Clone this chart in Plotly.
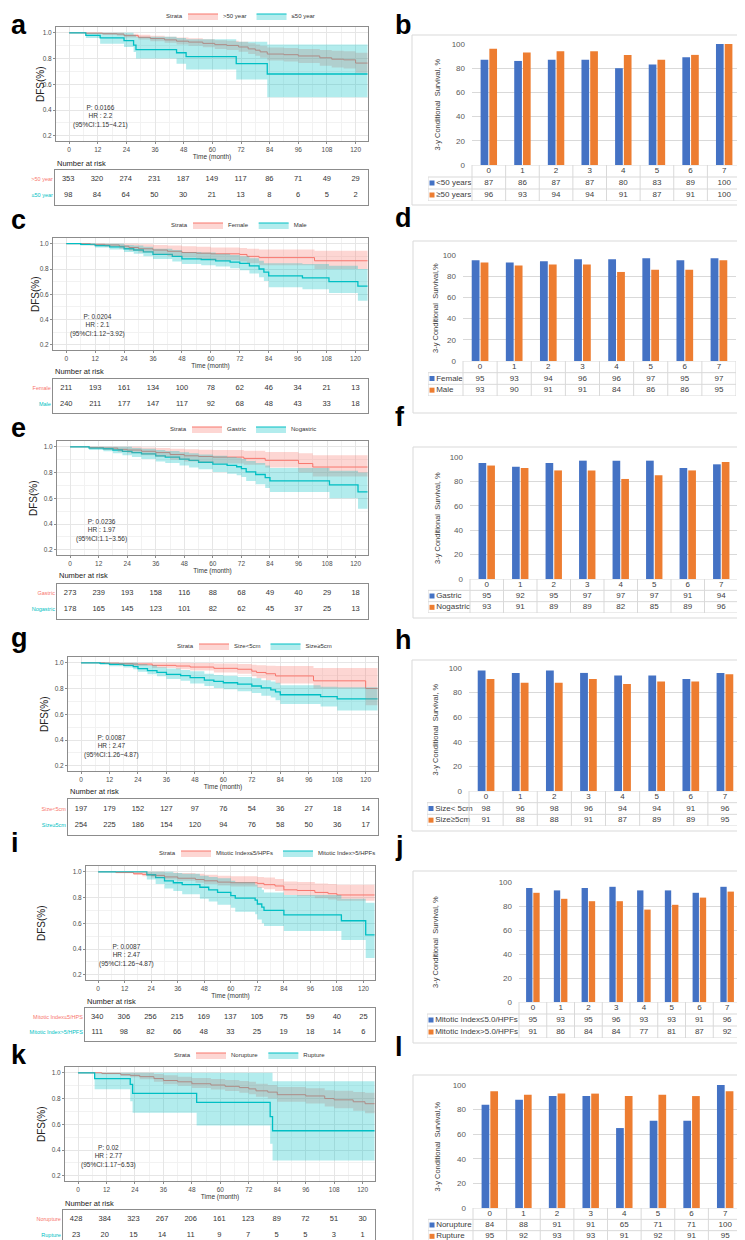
import plotly.graph_objects as go

# ====================== DATA ======================
RISK_TIMES = [0, 12, 24, 36, 48, 60, 72, 84, 96, 108, 120]
COND_YEARS = [0, 1, 2, 3, 4, 5, 6, 7]

KM_LEGEND_NAMES = [["&gt;50 year", "≤50 year"], ["Female", "Male"], ["Gastric", "Nogastric"],
                   ["Size&lt;5cm", "Size≥5cm"], ["Mitotic Index≤5/HPFs", "Mitotic Index&gt;5/HPFs"],
                   ["Norupture", "Rupture"]]
RISK_ROW_LABELS = [["&gt;50 year", "≤50 year"], ["Female", "Male"], ["Gastric", "Nogastric"],
                   ["Size&lt;5cm", "Size≥5cm"], ["Mitotic Index≤5/HPS", "Mitotic Index&gt;5/HPFS"],
                   ["Norupture", "Rupture"]]
P_VALUES = ["0.0166", "0.0204", "0.0236", "0.0087", "0.0087", "0.02"]
HR_VALUES = ["2.2", "2.1", "1.97", "2.47", "2.47", "2.77"]
HR_CI = ["1.15~4.21", "1.12~3.92", "1.1~3.56", "1.26~4.87", "1.26~4.87", "1.17~6.53"]

# ---- panel a ----
a1_time = [0, 7, 14, 20, 23, 29, 34, 40, 45, 50, 56, 61, 66, 71, 75, 78, 80, 83, 90, 96, 105, 110, 115, 120, 125]
a1_surv = [1.0, 0.997, 0.993, 0.99, 0.978, 0.965, 0.955, 0.945, 0.935, 0.928, 0.918, 0.908, 0.902, 0.89, 0.875, 0.865, 0.852, 0.835, 0.83, 0.82, 0.806, 0.795, 0.79, 0.765, 0.765]
a1_low = [1.0, 0.99, 0.983, 0.978, 0.963, 0.948, 0.935, 0.922, 0.91, 0.9, 0.888, 0.875, 0.867, 0.852, 0.835, 0.822, 0.807, 0.785, 0.778, 0.765, 0.745, 0.73, 0.722, 0.69, 0.69]
a1_high = [1.0, 1.0, 1.0, 1.0, 0.993, 0.985, 0.978, 0.97, 0.963, 0.958, 0.95, 0.943, 0.938, 0.93, 0.918, 0.91, 0.9, 0.885, 0.882, 0.875, 0.866, 0.86, 0.857, 0.845, 0.845]
a2_time = [0, 7, 13, 23, 27, 28, 45, 49, 70, 83, 125]
a2_surv = [1.0, 0.98, 0.96, 0.94, 0.905, 0.87, 0.845, 0.815, 0.76, 0.68, 0.68]
a2_low = [1.0, 0.96, 0.915, 0.89, 0.85, 0.8, 0.76, 0.715, 0.637, 0.5, 0.5]
a2_high = [1.0, 1.0, 1.0, 1.0, 0.985, 0.97, 0.96, 0.95, 0.93, 0.91, 0.91]
a1_risk = [353, 320, 274, 231, 187, 149, 117, 86, 71, 49, 29]
a2_risk = [98, 84, 64, 50, 30, 21, 13, 8, 6, 5, 2]

# ---- panel c ----
c1_time = [0, 10, 16, 22, 26, 30, 36, 42, 48, 54, 60, 72, 75, 80, 103, 125]
c1_surv = [1.0, 0.995, 0.99, 0.98, 0.97, 0.96, 0.95, 0.94, 0.93, 0.925, 0.92, 0.915, 0.9, 0.89, 0.865, 0.865]
c1_low = [1.0, 0.985, 0.975, 0.96, 0.945, 0.93, 0.915, 0.9, 0.89, 0.88, 0.87, 0.86, 0.845, 0.83, 0.8, 0.8]
c1_high = [1.0, 1.0, 1.0, 1.0, 1.0, 0.995, 0.99, 0.985, 0.98, 0.975, 0.97, 0.965, 0.96, 0.955, 0.945, 0.945]
c2_time = [0, 6, 12, 18, 24, 28, 32, 36, 44, 48, 56, 62, 68, 72, 76, 80, 82, 84, 98, 109, 121, 125]
c2_surv = [1.0, 0.995, 0.985, 0.975, 0.96, 0.95, 0.935, 0.915, 0.9, 0.88, 0.875, 0.865, 0.855, 0.845, 0.825, 0.8, 0.775, 0.745, 0.73, 0.7, 0.665, 0.665]
c2_low = [1.0, 0.985, 0.97, 0.955, 0.935, 0.92, 0.9, 0.88, 0.86, 0.84, 0.83, 0.82, 0.805, 0.79, 0.765, 0.735, 0.705, 0.655, 0.64, 0.61, 0.55, 0.55]
c2_high = [1.0, 1.0, 1.0, 1.0, 0.99, 0.985, 0.975, 0.96, 0.95, 0.935, 0.93, 0.92, 0.91, 0.9, 0.885, 0.865, 0.845, 0.845, 0.84, 0.826, 0.8, 0.8]
c1_risk = [211, 193, 161, 134, 100, 78, 62, 46, 34, 21, 13]
c2_risk = [240, 211, 177, 147, 117, 92, 68, 48, 43, 33, 18]

# ---- panel e ----
e1_time = [0, 8, 14, 20, 24, 30, 36, 42, 48, 54, 60, 73, 82, 96, 102, 125]
e1_surv = [1.0, 0.995, 0.99, 0.98, 0.975, 0.965, 0.955, 0.94, 0.93, 0.925, 0.92, 0.91, 0.895, 0.87, 0.843, 0.843]
e1_low = [1.0, 0.985, 0.975, 0.96, 0.95, 0.935, 0.92, 0.9, 0.885, 0.878, 0.87, 0.86, 0.84, 0.8, 0.77, 0.77]
e1_high = [1.0, 1.0, 1.0, 1.0, 1.0, 0.995, 0.99, 0.985, 0.98, 0.978, 0.975, 0.97, 0.96, 0.95, 0.935, 0.935]
e2_time = [0, 8, 14, 18, 22, 26, 30, 36, 40, 46, 50, 54, 60, 66, 70, 72, 74, 78, 82, 84, 109, 121, 125]
e2_surv = [1.0, 0.99, 0.985, 0.975, 0.965, 0.955, 0.945, 0.93, 0.92, 0.905, 0.895, 0.88, 0.865, 0.855, 0.845, 0.83, 0.805, 0.785, 0.76, 0.735, 0.705, 0.65, 0.65]
e2_low = [1.0, 0.975, 0.965, 0.95, 0.935, 0.92, 0.905, 0.885, 0.875, 0.855, 0.84, 0.825, 0.805, 0.79, 0.78, 0.765, 0.735, 0.71, 0.68, 0.65, 0.6, 0.52, 0.52]
e2_high = [1.0, 1.0, 1.0, 1.0, 1.0, 0.99, 0.985, 0.975, 0.968, 0.958, 0.95, 0.94, 0.93, 0.92, 0.915, 0.905, 0.89, 0.875, 0.855, 0.835, 0.815, 0.8, 0.8]
e1_risk = [273, 239, 193, 158, 116, 88, 68, 49, 40, 29, 18]
e2_risk = [178, 165, 145, 123, 101, 82, 62, 45, 37, 25, 13]

# ---- panel g ----
g1_time = [0, 10, 16, 22, 30, 40, 46, 56, 66, 72, 74, 78, 82, 98, 120, 125]
g1_surv = [1.0, 0.997, 0.993, 0.99, 0.98, 0.975, 0.967, 0.957, 0.95, 0.935, 0.925, 0.915, 0.898, 0.86, 0.8, 0.8]
g1_low = [1.0, 0.99, 0.98, 0.975, 0.96, 0.95, 0.94, 0.925, 0.915, 0.895, 0.88, 0.865, 0.84, 0.8, 0.67, 0.67]
g1_high = [1.0, 1.0, 1.0, 1.0, 1.0, 1.0, 0.998, 0.995, 0.99, 0.985, 0.98, 0.978, 0.975, 0.96, 0.96, 0.96]
g2_time = [0, 8, 12, 18, 22, 24, 28, 32, 36, 42, 46, 52, 56, 60, 66, 72, 76, 80, 82, 84, 101, 108, 125]
g2_surv = [1.0, 0.995, 0.987, 0.98, 0.97, 0.955, 0.94, 0.925, 0.91, 0.9, 0.885, 0.865, 0.855, 0.845, 0.835, 0.82, 0.805, 0.79, 0.775, 0.752, 0.737, 0.72, 0.72]
g2_low = [1.0, 0.985, 0.973, 0.963, 0.95, 0.93, 0.912, 0.895, 0.875, 0.86, 0.84, 0.82, 0.805, 0.795, 0.78, 0.765, 0.745, 0.73, 0.71, 0.68, 0.66, 0.63, 0.63]
g2_high = [1.0, 1.0, 1.0, 1.0, 1.0, 0.99, 0.98, 0.965, 0.955, 0.945, 0.935, 0.915, 0.905, 0.9, 0.89, 0.88, 0.865, 0.855, 0.845, 0.825, 0.815, 0.81, 0.81]
g1_risk = [197, 179, 152, 127, 97, 76, 54, 36, 27, 18, 14]
g2_risk = [254, 225, 186, 154, 120, 94, 76, 58, 50, 36, 17]

# ---- panel i ----
i1_time = [0, 8, 16, 20, 24, 30, 36, 44, 48, 54, 60, 72, 75, 80, 84, 90, 98, 104, 108, 125]
i1_surv = [1.0, 0.995, 0.985, 0.98, 0.972, 0.96, 0.95, 0.94, 0.93, 0.92, 0.915, 0.91, 0.9, 0.89, 0.86, 0.855, 0.84, 0.83, 0.82, 0.82]
i1_low = [1.0, 0.988, 0.975, 0.965, 0.955, 0.94, 0.93, 0.915, 0.905, 0.893, 0.885, 0.875, 0.865, 0.85, 0.82, 0.81, 0.795, 0.785, 0.775, 0.775]
i1_high = [1.0, 1.0, 1.0, 1.0, 1.0, 0.995, 0.99, 0.985, 0.978, 0.97, 0.965, 0.96, 0.955, 0.945, 0.925, 0.92, 0.91, 0.905, 0.9, 0.9]
i2_time = [0, 22, 26, 30, 34, 38, 46, 50, 54, 60, 62, 71, 72, 74, 75, 84, 110, 121, 125]
i2_surv = [1.0, 0.977, 0.955, 0.93, 0.915, 0.9, 0.88, 0.86, 0.84, 0.815, 0.795, 0.78, 0.75, 0.725, 0.7, 0.665, 0.62, 0.51, 0.51]
i2_low = [1.0, 0.94, 0.905, 0.87, 0.85, 0.825, 0.79, 0.77, 0.745, 0.72, 0.69, 0.67, 0.63, 0.6, 0.58, 0.54, 0.47, 0.33, 0.33]
i2_high = [1.0, 1.0, 1.0, 1.0, 0.99, 0.985, 0.97, 0.96, 0.95, 0.93, 0.92, 0.9, 0.88, 0.86, 0.84, 0.82, 0.79, 0.76, 0.76]
i1_risk = [340, 306, 256, 215, 169, 137, 105, 75, 59, 40, 25]
i2_risk = [111, 98, 82, 66, 48, 33, 25, 19, 18, 14, 6]

# ---- panel k ----
k1_time = [0, 10, 18, 22, 26, 32, 36, 42, 48, 56, 62, 68, 72, 75, 80, 84, 96, 104, 108, 116, 121, 125]
k1_surv = [1.0, 0.995, 0.985, 0.98, 0.97, 0.955, 0.94, 0.93, 0.915, 0.905, 0.895, 0.885, 0.875, 0.86, 0.85, 0.83, 0.82, 0.8, 0.79, 0.775, 0.76, 0.76]
k1_low = [1.0, 0.988, 0.975, 0.965, 0.95, 0.93, 0.912, 0.9, 0.882, 0.87, 0.858, 0.845, 0.833, 0.815, 0.8, 0.775, 0.762, 0.738, 0.725, 0.705, 0.685, 0.685]
k1_high = [1.0, 1.0, 1.0, 1.0, 1.0, 0.99, 0.98, 0.97, 0.96, 0.952, 0.945, 0.937, 0.93, 0.915, 0.905, 0.89, 0.88, 0.865, 0.86, 0.85, 0.845, 0.845]
k2_time = [0, 7, 22, 23, 50, 81, 82, 125]
k2_surv = [1.0, 0.955, 0.91, 0.84, 0.77, 0.66, 0.55, 0.55]
k2_low = [1.0, 0.873, 0.78, 0.69, 0.59, 0.45, 0.32, 0.32]
k2_high = [1.0, 1.0, 1.0, 1.0, 1.0, 1.0, 0.935, 0.935]
k1_risk = [428, 384, 323, 267, 206, 161, 123, 89, 72, 51, 30]
k2_risk = [23, 20, 15, 14, 11, 9, 7, 5, 5, 3, 1]

# ---- bar panels (3-y conditional survival, %) ----
BAR_NAMES = [["&lt;50 years", "≥50 years"], ["Female", "Male"], ["Gastric", "Nogastric"],
             ["Size&lt; 5cm", "Size≥5cm"], ["Mitotic Index≤5.0/HPFs", "Mitotic Index&gt;5.0/HPFs"],
             ["Norupture", "Rupture"]]
BAR_YTITLES = ["3-y Conditional  Survival, %", "3-y Conditional  Survival,%",
               "3-y Conditional  Survival, %", "3-y Conditional  Survival, %",
               "3-y Conditional  Survival, %", "3-y Conditional  Survival,%"]
b_s1 = [87, 86, 87, 87, 80, 83, 89, 100]
b_s2 = [96, 93, 94, 94, 91, 87, 91, 100]
d_s1 = [95, 93, 94, 96, 96, 97, 95, 97]
d_s2 = [93, 90, 91, 91, 84, 86, 86, 95]
f_s1 = [95, 92, 95, 97, 97, 97, 91, 94]
f_s2 = [93, 91, 89, 89, 82, 85, 89, 96]
h_s1 = [98, 96, 98, 96, 94, 94, 91, 96]
h_s2 = [91, 88, 88, 91, 87, 89, 89, 95]
j_s1 = [95, 93, 95, 96, 93, 93, 91, 96]
j_s2 = [91, 86, 84, 84, 77, 81, 87, 92]
l_s1 = [84, 88, 91, 91, 65, 71, 71, 100]
l_s2 = [95, 92, 93, 93, 91, 92, 91, 95]

# ====================== STYLE / LAYOUT ======================
W, H = 745, 1240
FONT = "Liberation Sans, Arial, sans-serif"
RED, CYAN = "#F8766D", "#00BFC4"
RED_FILL, CYAN_FILL = "rgba(248,118,109,0.30)", "rgba(0,191,196,0.30)"
BLUE, ORANGE = "#4472C4", "#ED7D31"
KM_BORDER = "#8C8C8C"
LIGHT = "#D9D9D9"
XR = [-5.5, 125.2]
YR = [0.16, 1.045]

def X(p):
    return p / W

def Y(p):
    return 1 - p / H

fig = go.Figure()
layout = {}
shapes = []
annotations = []
_ax = [0]

def new_axes():
    _ax[0] += 1
    n = _ax[0]
    s = "" if n == 1 else str(n)
    return "xaxis" + s, "yaxis" + s, "x" + s, "y" + s

def note(x, y, text, size, color="#333333", xanchor="center", yanchor="middle", angle=0, xref="paper", yref="paper"):
    annotations.append(dict(xref=xref, yref=yref, x=x, y=y, text=text, showarrow=False, xanchor=xanchor,
                            yanchor=yanchor, textangle=angle, align="center",
                            font=dict(size=size, color=color)))

# letter, letter_y(top), plot L,R,T,B, table L,R,T,B, "number at risk" y, DFS x, "Strata" right edge
KM_GEOM = [
    ("a", 0, 48, 360, 19, 133, 47, 360, 162, 197, 155, 33, 177),
    ("c", 195, 45, 360, 230, 342, 45, 360, 371, 405, 363, 27, 182),
    ("e", 403, 49, 360, 433, 547, 49, 360, 576, 611, 568, 25, 181),
    ("g", 613, 60, 370, 649, 763, 60, 370, 791, 827, 784, 36, 188),
    ("i", 818, 78, 367, 858, 972, 77, 367, 1000, 1033, 993, 33, 170),
    ("k", 1030, 57, 367, 1059, 1173, 55, 367, 1202, 1237, 1195, 33, 185),
]
KM_LEGEND_Y = [8, 217, 421, 638, 845, 1047]

KM_CURVES = [
    [(a1_time, a1_surv, a1_low, a1_high), (a2_time, a2_surv, a2_low, a2_high)],
    [(c1_time, c1_surv, c1_low, c1_high), (c2_time, c2_surv, c2_low, c2_high)],
    [(e1_time, e1_surv, e1_low, e1_high), (e2_time, e2_surv, e2_low, e2_high)],
    [(g1_time, g1_surv, g1_low, g1_high), (g2_time, g2_surv, g2_low, g2_high)],
    [(i1_time, i1_surv, i1_low, i1_high), (i2_time, i2_surv, i2_low, i2_high)],
    [(k1_time, k1_surv, k1_low, k1_high), (k2_time, k2_surv, k2_low, k2_high)],
]
KM_RISK = [(a1_risk, a2_risk), (c1_risk, c2_risk), (e1_risk, e2_risk),
           (g1_risk, g2_risk), (i1_risk, i2_risk), (k1_risk, k2_risk)]

for idx, geom in enumerate(KM_GEOM):
    letter, ly, L, R, T, B, tL, tR, tT, tB, nar_y, dfs_x, strata_x = geom
    xa, ya, xr, yr = new_axes()
    layout[xa] = dict(domain=[X(L), X(R)], anchor=yr, range=XR, tickvals=RISK_TIMES,
                      showgrid=True, gridcolor="#E6E6E6", gridwidth=0.6,
                      minor=dict(dtick=6, tick0=0, showgrid=True, gridcolor="#F2F2F2", gridwidth=0.5),
                      zeroline=False, showline=True, mirror=True, linecolor=KM_BORDER, linewidth=1,
                      ticks="outside", ticklen=2, tickcolor=KM_BORDER,
                      tickfont=dict(size=6.5, color="#4D4D4D"),
                      title=dict(text="Time (month)", font=dict(size=6.5, color="#333333"), standoff=1))
    layout[ya] = dict(domain=[Y(B), Y(T)], anchor=xr, range=YR, tickvals=[0.2, 0.4, 0.6, 0.8, 1.0],
                      tickformat=".1f", showgrid=True, gridcolor="#E6E6E6", gridwidth=0.6,
                      minor=dict(dtick=0.1, tick0=0, showgrid=True, gridcolor="#F2F2F2", gridwidth=0.5),
                      zeroline=False, showline=True, mirror=True, linecolor=KM_BORDER, linewidth=1,
                      ticks="outside", ticklen=2, tickcolor=KM_BORDER,
                      tickfont=dict(size=6.5, color="#4D4D4D"))
    legend_id = "legend" if idx == 0 else f"legend{idx + 1}"
    curves = KM_CURVES[idx]
    # survival step lines
    for (t, s, lo, hi), col, lw in zip(curves, [RED, CYAN], [1.0, 1.3]):
        fig.add_trace(go.Scatter(x=t, y=s, mode="lines", line=dict(color=col, width=lw, shape="hv"),
                                 xaxis=xr, yaxis=yr, showlegend=False, hoverinfo="skip"))
    # confidence ribbons
    for (t, s, lo, hi), fc in zip(curves, [RED_FILL, CYAN_FILL]):
        fig.add_trace(go.Scatter(x=t, y=lo, mode="lines", line=dict(width=0, shape="hv"),
                                 xaxis=xr, yaxis=yr, showlegend=False, hoverinfo="skip"))
        fig.add_trace(go.Scatter(x=t, y=hi, mode="lines", line=dict(width=0, shape="hv"),
                                 fill="tonexty", fillcolor=fc,
                                 xaxis=xr, yaxis=yr, showlegend=False, hoverinfo="skip"))
    # legend keys
    for name, col, fc in zip(KM_LEGEND_NAMES[idx], [RED, CYAN], [RED_FILL, CYAN_FILL]):
        fig.add_trace(go.Scatter(x=[None], y=[None], mode="lines", line=dict(color=col, width=1),
                                 fill="toself", fillcolor=fc, name=name, legend=legend_id,
                                 xaxis=xr, yaxis=yr, hoverinfo="skip"))
    layout[legend_id] = dict(orientation="h", x=X(strata_x - 2), xanchor="left", y=Y(KM_LEGEND_Y[idx]),
                             yanchor="middle", font=dict(size=6, color="#333333"), traceorder="normal",
                             bgcolor="rgba(0,0,0,0)", itemwidth=30, tracegroupgap=0,
                             borderwidth=0)
    note(X(strata_x), Y(KM_LEGEND_Y[idx]), "Strata", 6, color="#333333", xanchor="right")
    # stats text
    note(13, 0.35, f"P: {P_VALUES[idx]}<br>HR : {HR_VALUES[idx]}<br>(95%CI:{HR_CI[idx]})", 6.5,
         xref=xr, yref=yr)
    note(X(dfs_x), Y((T + B) / 2), "DFS(%)", 10, color="#222222", angle=-90)
    note(X(1), Y(ly), f"<b>{letter}</b>", 27, color="black", xanchor="left", yanchor="top")
    note(X(tL), Y(nar_y), "Number at risk", 7.5, color="#222222", xanchor="left")
    # number at risk table
    xa2, ya2, xr2, yr2 = new_axes()
    layout[xa2] = dict(domain=[X(tL), X(tR)], anchor=yr2, range=XR, showticklabels=False, ticks="",
                       showgrid=False, zeroline=False, showline=True, mirror=True,
                       linecolor=KM_BORDER, linewidth=1)
    lab1, lab2 = RISK_ROW_LABELS[idx]
    layout[ya2] = dict(domain=[Y(tB), Y(tT)], anchor=xr2, range=[-0.6, 1.6], tickvals=[1, 0],
                       ticktext=[f"<span style='color:{RED}'>{lab1}</span>",
                                 f"<span style='color:{CYAN}'>{lab2}</span>"],
                       tickfont=dict(size=5.5), ticks="", showgrid=False, zeroline=False,
                       showline=True, mirror=True, linecolor=KM_BORDER, linewidth=1)
    for vals, row in zip(KM_RISK[idx], [1, 0]):
        fig.add_trace(go.Scatter(x=RISK_TIMES, y=[row] * len(RISK_TIMES), mode="text",
                                 text=[str(v) for v in vals], textfont=dict(size=7.5, color="#333333"),
                                 xaxis=xr2, yaxis=yr2, showlegend=False, hoverinfo="skip", cliponaxis=False))

# letter, letter_y(top), outer L,R,T,B, legend-col L, plot L,R, y(100), y(0), table bottom, y-title x
BAR_GEOM = [
    ("b", 0, 404, 742, 27, 197, 420, 464, 733, 36, 157, 193, 429),
    ("d", 193, 405, 742, 233, 405, 420, 455, 728, 247, 353, 388, 427),
    ("f", 392, 405, 742, 439, 610, 420, 462, 730, 449, 571, 605, 429),
    ("h", 615, 404, 742, 652, 823, 419, 461, 734, 660, 783, 818, 427),
    ("j", 821, 405, 744, 863, 1035, 419, 511, 733, 874, 994, 1030, 428),
    ("l", 1022, 405, 742, 1067, 1238, 420, 465, 734, 1077, 1200, 1234, 429),
]
BAR_SERIES = [(b_s1, b_s2), (d_s1, d_s2), (f_s1, f_s2), (h_s1, h_s2), (j_s1, j_s2), (l_s1, l_s2)]

for idx, geom in enumerate(BAR_GEOM):
    letter, ly, oL, oR, oT, oB, legL, L, R, y100, y0, tB, ytx = geom
    s1, s2 = BAR_SERIES[idx]
    n1, n2 = BAR_NAMES[idx]
    shapes.append(dict(type="rect", xref="paper", yref="paper", x0=X(oL), x1=X(oR), y0=Y(oB), y1=Y(oT),
                       line=dict(color=LIGHT, width=1), layer="below"))
    xa, ya, xr, yr = new_axes()
    layout[xa] = dict(domain=[X(L), X(R)], anchor=yr, range=[-0.5, 7.5], showticklabels=False, ticks="",
                      showgrid=False, zeroline=False, showline=False)
    layout[ya] = dict(domain=[Y(y0), Y(y100)], anchor=xr, range=[0, 100], tickvals=[0, 20, 40, 60, 80, 100],
                      showgrid=True, gridcolor=LIGHT, gridwidth=1, zeroline=False, showline=False,
                      ticks="", ticklabelstandoff=6, tickfont=dict(size=8, color="#595959"))
    fig.add_trace(go.Bar(x=COND_YEARS, y=s1, marker=dict(color=BLUE, line=dict(width=0)), name=n1,
                         xaxis=xr, yaxis=yr, showlegend=False, hoverinfo="skip"))
    fig.add_trace(go.Bar(x=COND_YEARS, y=s2, marker=dict(color=ORANGE, line=dict(width=0)), name=n2,
                         xaxis=xr, yaxis=yr, showlegend=False, hoverinfo="skip"))
    # data table under the bars
    cw = (R - L) / 8.0
    wl = (L - legL) / cw
    x_left = -0.5 - wl
    xa2, ya2, xr2, yr2 = new_axes()
    layout[xa2] = dict(domain=[X(legL), X(R)], anchor=yr2, range=[x_left, 7.5], visible=False)
    layout[ya2] = dict(domain=[Y(tB), Y(y0)], anchor=xr2, range=[0, 3], visible=False)
    line_style = dict(color=LIGHT, width=1)
    for k in range(9):
        shapes.append(dict(type="line", xref=xr2, yref=yr2, x0=-0.5 + k, x1=-0.5 + k, y0=0, y1=3, line=line_style))
    shapes.append(dict(type="line", xref=xr2, yref=yr2, x0=x_left, x1=x_left, y0=0, y1=2, line=line_style))
    for yy in (0, 1, 2):
        shapes.append(dict(type="line", xref=xr2, yref=yr2, x0=x_left, x1=7.5, y0=yy, y1=yy, line=line_style))
    shapes.append(dict(type="line", xref=xr2, yref=yr2, x0=-0.5, x1=7.5, y0=3, y1=3, line=line_style))
    fig.add_trace(go.Scatter(x=COND_YEARS, y=[2.5] * len(COND_YEARS), mode="text",
                             text=[str(c) for c in COND_YEARS], textfont=dict(size=8, color="#404040"),
                             xaxis=xr2, yaxis=yr2, showlegend=False, hoverinfo="skip", cliponaxis=False))
    for vals, row in zip((s1, s2), (1.5, 0.5)):
        fig.add_trace(go.Scatter(x=COND_YEARS, y=[row] * len(COND_YEARS), mode="text",
                                 text=[str(v) for v in vals], textfont=dict(size=8, color="#404040"),
                                 xaxis=xr2, yaxis=yr2, showlegend=False, hoverinfo="skip", cliponaxis=False))
    for name, col, row in zip((n1, n2), (BLUE, ORANGE), (1.5, 0.5)):
        fig.add_trace(go.Scatter(x=[x_left + 4.0 / cw], y=[row], mode="markers+text",
                                 marker=dict(symbol="square", size=5, color=col),
                                 text=[name], textposition="middle right",
                                 textfont=dict(size=8, color="#404040"),
                                 xaxis=xr2, yaxis=yr2, showlegend=False, hoverinfo="skip", cliponaxis=False))
    note(X(ytx), Y((y100 + y0) / 2), BAR_YTITLES[idx], 7.5, color="#404040", angle=-90)
    note(X(385), Y(ly), f"<b>{letter}</b>", 27, color="black", xanchor="left", yanchor="top")

fig.update_layout(**layout)
fig.update_layout(width=W, height=H, autosize=False,
                  margin=dict(l=0, r=0, t=0, b=0, pad=0, autoexpand=False),
                  paper_bgcolor="white", plot_bgcolor="white", template="none",
                  font=dict(family=FONT, color="#333333"), barmode="group", bargap=0.48, bargroupgap=0.12,
                  hovermode=False, shapes=shapes, annotations=annotations)
fig.write_html("out.html")
